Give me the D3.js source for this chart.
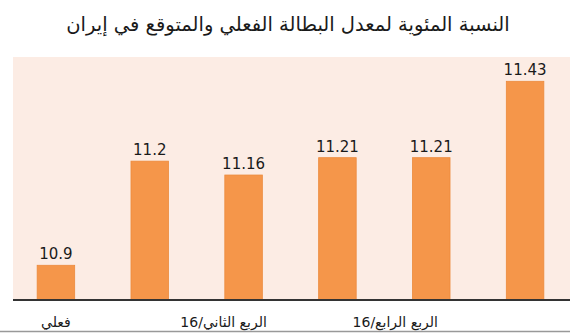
<!DOCTYPE html>
<html>
<head>
<meta charset="utf-8">
<script src="https://cdn.jsdelivr.net/npm/d3@7/dist/d3.min.js"></script>
<style>
  body { margin: 0; background: #fff; }
  svg { display: block; }
</style>
</head>
<body>
<div id="vis"></div>
<script>
// data
var categories = ["q0", "q1", "q2", "q3", "q4", "q5"];
var values = [10.9, 11.2, 11.16, 11.21, 11.21, 11.43];
var tickLabels = ["فعلي", "", "الربع الثاني/16", "", "الربع الرابع/16", ""];
var title = "النسبة المئوية لمعدل البطالة الفعلي والمتوقع في إيران";

var W = 570, H = 333;
var margin = {top: 57, right: 0, bottom: 33, left: 13};
var width = W - margin.left - margin.right;
var height = H - margin.top - margin.bottom;

var svg = d3.select("#vis").append("svg")
  .attr("width", W)
  .attr("height", H);

svg.append("text")
  .attr("x", 288)
  .attr("y", 31)
  .attr("text-anchor", "middle")
  .attr("font-family", "DejaVu Sans")
  .attr("font-size", 19.5)
  .attr("fill", "#1a1a1a")
  .text(title);

var g = svg.append("g")
  .attr("transform", "translate(" + margin.left + "," + margin.top + ")");

g.append("rect")
  .attr("width", width)
  .attr("height", height)
  .attr("fill", "#fcece4");

var x = d3.scaleBand()
  .domain(categories)
  .range([-4, width + 2])
  .paddingInner(0.6)
  .paddingOuter(0.3);

var y = d3.scaleLinear()
  .domain([10.8, 11.5])
  .range([height, 0]);

g.selectAll("rect.bar")
  .data(values)
  .enter().append("rect")
  .attr("class", "bar")
  .attr("x", function(d, i) { return x(categories[i]); })
  .attr("y", function(d) { return y(d); })
  .attr("width", x.bandwidth())
  .attr("height", function(d) { return height - y(d); })
  .attr("fill", "#f5964a")
  .attr("stroke", "#ec8a3c")
  .attr("stroke-width", 0.8);

g.selectAll("text.val")
  .data(values)
  .enter().append("text")
  .attr("class", "val")
  .attr("x", function(d, i) { return x(categories[i]) + x.bandwidth() / 2; })
  .attr("y", function(d) { return y(d) - 6; })
  .attr("text-anchor", "middle")
  .attr("font-family", "DejaVu Sans")
  .attr("font-size", 15)
  .attr("fill", "#1a1a1a")
  .text(function(d) { return d; });

// base line
g.append("line")
  .attr("x1", 0).attr("x2", width)
  .attr("y1", height).attr("y2", height)
  .attr("stroke", "#333")
  .attr("stroke-width", 2);

// category labels, only some are shown in the source
var labelShift = [0, 0, -20, 0, -36, 0];
g.selectAll("text.cat")
  .data(tickLabels)
  .enter().append("text")
  .attr("class", "cat")
  .attr("x", function(d, i) { return x(categories[i]) + x.bandwidth() / 2 + labelShift[i]; })
  .attr("y", height + 27)
  .attr("text-anchor", "middle")
  .attr("font-family", "DejaVu Sans")
  .attr("font-size", 14)
  .attr("fill", "#1a1a1a")
  .text(function(d) { return d; });

svg.append("line")
  .attr("x1", 0).attr("x2", W)
  .attr("y1", 331.5).attr("y2", 331.5)
  .attr("stroke", "#999")
  .attr("stroke-width", 1.5);
</script>
</body>
</html>
